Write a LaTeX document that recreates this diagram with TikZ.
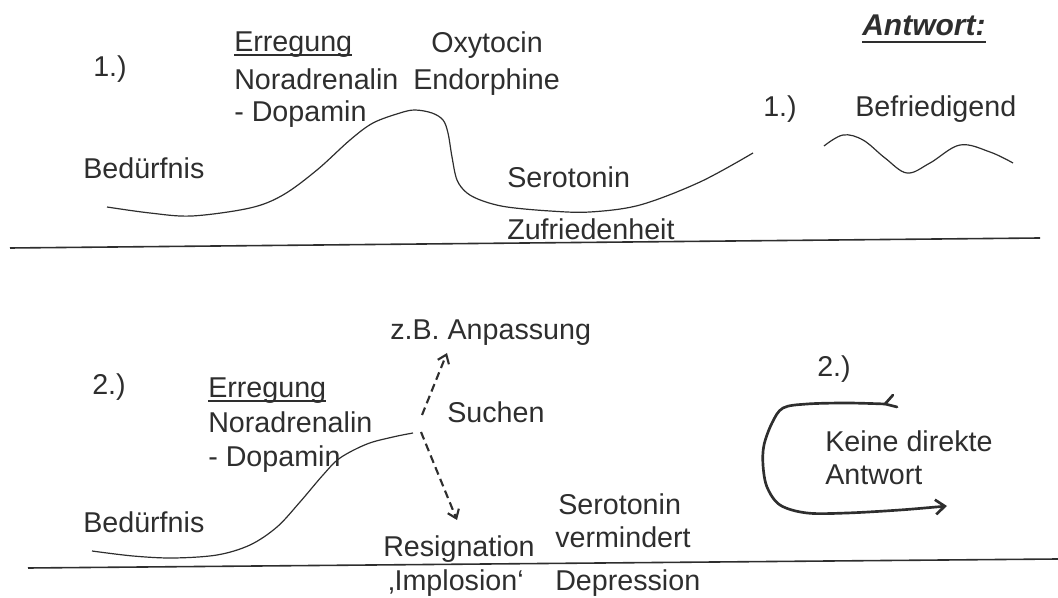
\documentclass[tikz,border=0pt]{standalone}
\usepackage{fontspec}
\setmainfont{Liberation Sans}
\usetikzlibrary{arrows.meta}
\definecolor{ink}{HTML}{2E2E2E}
\begin{document}
\begin{tikzpicture}[x=0.75pt,y=-0.75pt,
  lbl/.style={inner sep=0pt,anchor=base west,text=ink,font=\fontsize{21.5}{25}\selectfont},
  curve/.style={draw=ink,line width=0.9pt},
  rule/.style={draw=ink,line width=1.2pt},
  dasharrow/.style={draw=ink,line width=1.6pt,dash pattern=on 6pt off 3.5pt,-{Straight Barb[length=6pt,width=9pt,line width=1.6pt]}},
  loop/.style={draw=ink,line width=2pt,line cap=round,line join=round}]
\useasboundingbox (0,0) rectangle (1058,598);
% ---------- part 1 ----------
\node[lbl] (n1) at (93,77) {1.)};
\node[lbl] (err1) at (234,52) {Erregung};
\draw[ink,line width=1.1pt] ([yshift=-2.2pt]err1.base west) -- ([yshift=-2.2pt]err1.base east);
\node[lbl] (nor1) at (234,90) {Noradrenalin};
\node[lbl] (dop1) at (234,122) {- Dopamin};
\node[lbl] (oxy) at (431,53) {Oxytocin};
\node[lbl] (endo) at (413,90) {Endorphine};
\node[lbl] (bed1) at (83,179) {Bedürfnis};
\node[lbl] (ser1) at (507,188) {Serotonin};
\node[lbl] (zuf) at (507,240) {Zufriedenheit};
\node[lbl,font=\fontsize{22.5}{26}\selectfont\bfseries\itshape] (ant) at (862,36) {Antwort:};
\draw[ink,line width=1.6pt] ([yshift=-4.5pt]ant.base west) -- ([yshift=-4.5pt]ant.base east);
\node[lbl] (r1) at (763,117) {1.)};
\node[lbl] (bef) at (855,117) {Befriedigend};
\draw[curve] plot[smooth,tension=0.55] coordinates {(107,207) (150,213) (192,216) (250,208) (283,195) (317,170) (350,140) (373,123) (400,113) (415,110) (432,113) (443,120) (448,133) (452,157) (457,180) (467,193) (483,201) (507,207) (550,211) (590,212) (640,205) (700,182) (753,153)};
\draw[curve] plot[smooth,tension=0.6] coordinates {(824,146) (843,135) (863,140) (885,158) (907,173) (930,163) (960,145) (990,152) (1013,163)};
\draw[rule] (10,248) -- (1040,238);
% ---------- part 2 ----------
\node[lbl] (anp) at (390,340) {z.B. Anpassung};
\node[lbl] (n2) at (92,395) {2.)};
\node[lbl] (err2) at (208,398) {Erregung};
\draw[ink,line width=1.1pt] ([yshift=-2.2pt]err2.base west) -- ([yshift=-2.2pt]err2.base east);
\node[lbl] (nor2) at (208,433) {Noradrenalin};
\node[lbl] (dop2) at (208,467) {- Dopamin};
\node[lbl] (such) at (447,423) {Suchen};
\node[lbl] (bed2) at (83,533) {Bedürfnis};
\node[lbl] (res) at (383,557) {Resignation};
\node[lbl] (imp) at (388,591) {‚Implosion‘};
\node[lbl] (ser2) at (558,515) {Serotonin};
\node[lbl] (verm) at (555,548) {vermindert};
\node[lbl] (dep) at (555,591) {Depression};
\node[lbl] (r2) at (817,377) {2.)};
\node[lbl] (kei) at (825,452) {Keine direkte};
\node[lbl] (ant2) at (825,485) {Antwort};
\draw[curve] plot[smooth,tension=0.55] coordinates {(92,551) (133,556) (173,558) (217,555) (250,545) (277,527) (300,502) (323,475) (340,458) (367,444) (393,437) (413,433)};
\coordinate (upstart) at (422,415);
\coordinate (upend) at (447,353);
\coordinate (dnstart) at (421,432);
\coordinate (dnend) at (457,520);
\draw[dasharrow] (upstart) -- (upend);
\draw[dasharrow] (dnstart) -- (dnend);
\draw[rule] (28,568) -- (1058,559);
% loop arrow
\coordinate (lpstart) at (885,404);
\coordinate (lpend) at (947,506);
\draw[loop,-{Straight Barb[length=7pt,width=11pt,line width=2pt]}] plot[smooth,tension=0.55] coordinates {(lpstart) (847,403) (807,404) (783,408) (772,423) (764,445) (763,465) (767,487) (780,505) (807,513) (847,513) (900,510) (lpend)};
\draw[loop] (lpstart) -- (893,395);
\draw[loop] (lpstart) -- (897,407);
\end{tikzpicture}
\end{document}
